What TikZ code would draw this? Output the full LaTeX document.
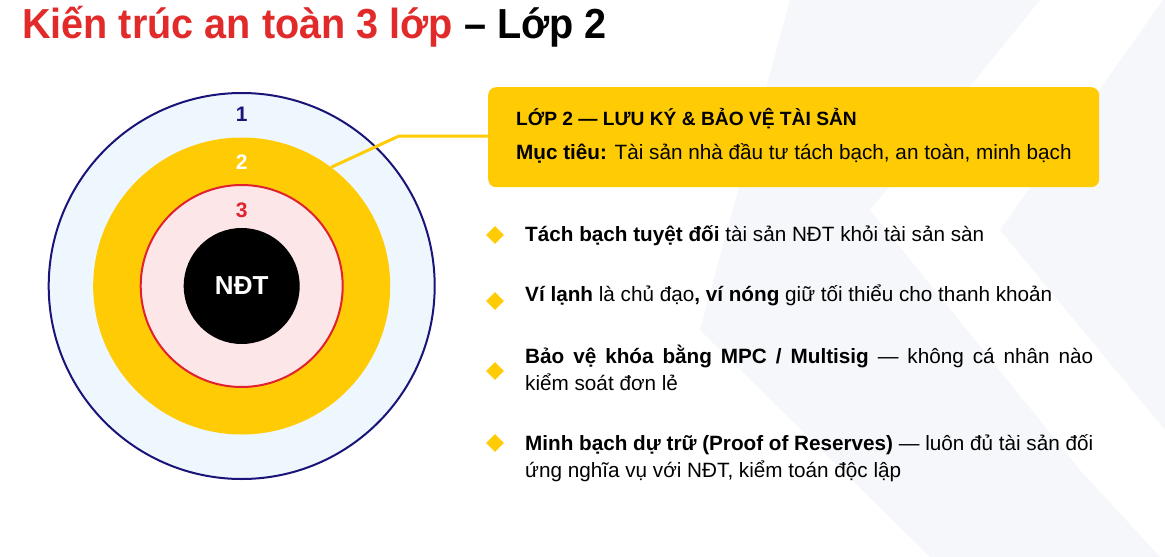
\documentclass[tikz,border=0pt]{standalone}
\usepackage{fontspec}
\setmainfont{Liberation Sans}
\usetikzlibrary{shapes.geometric}
\definecolor{titlered}{HTML}{E12B2B}
\definecolor{navy}{HTML}{1B1478}
\definecolor{gold}{HTML}{FFCB05}
\definecolor{ringblue}{HTML}{EEF6FE}
\definecolor{ringpink}{HTML}{FDE6E8}
\definecolor{ringred}{HTML}{E0222E}
\definecolor{wm}{HTML}{F6F7FA}
\begin{document}
\begin{tikzpicture}[x=1pt,y=-1pt,
  ring/.style={circle, inner sep=0pt},
  numlabel/.style={inner sep=0pt, font=\bfseries\fontsize{21}{24}\selectfont},
  bullet/.style={diamond, fill=gold, inner sep=0pt, minimum size=18pt},
  body/.style={anchor=base west, inner sep=0pt, font=\fontsize{20.7}{27}\selectfont},
]
\useasboundingbox (0,0) rectangle (1165,557);
\fill[white] (0,0) rectangle (1165,557);
% faint watermark
\fill[wm] (790,0) -- (1040,0) -- (870,210) -- (1080,470) -- (1160,557) -- (930,557) -- (700,330) -- cycle;
\fill[wm] (1163,0) -- (1165,0) -- (1165,430) -- (1000,230) -- cycle;

% title
\node[anchor=base west, inner sep=0pt, font=\bfseries\fontsize{42}{50}\selectfont] (title) at (22,38)
  {\scalebox{0.943}[1]{\textcolor{titlered}{Kiến trúc an toàn 3 lớp} – Lớp 2}};

% rings
\node[ring, fill=ringblue, draw=navy, line width=2pt, minimum size=386pt] (ring1) at (241.7,286) {};
\node[ring, fill=gold, minimum size=297pt] (ring2) at (241.7,286) {};
\node[ring, fill=ringpink, draw=ringred, line width=2pt, minimum size=202pt] (ring3) at (241.7,286) {};
\node[ring, fill=black, minimum size=116pt, text=white, font=\bfseries\fontsize{26}{30}\selectfont] (core) at (241.7,286) {NĐT};
\node[numlabel, text=navy] (l1) at (241.7,114) {1};
\node[numlabel, text=white] (l2) at (241.7,162.5) {2};
\node[numlabel, text=ringred] (l3) at (241.7,210.5) {3};

% callout box
\node[fill=gold, rounded corners=8pt, minimum width=611pt, minimum height=100pt, inner sep=0pt, anchor=north west] (box) at (488,87) {};
\coordinate (elbow) at (399,136);
\draw[gold, line width=3pt] (ring2.53) -- (elbow) -- (box.west |- elbow);
\node[anchor=base west, inner sep=0pt, font=\bfseries\fontsize{19.2}{22}\selectfont] (boxtitle) at (516,125)
  {LỚP 2 — LƯU KÝ \& BẢO VỆ TÀI SẢN};
\node[anchor=base west, inner sep=0pt, font=\fontsize{20.7}{24}\selectfont] (goal) at (516,159)
  {\textbf{Mục tiêu:} Tài sản nhà đầu tư tách bạch, an toàn, minh bạch};

% bullets
\node[bullet] (d1) at (495,235) {};
\node[bullet] (d2) at (495,301) {};
\node[bullet] (d3) at (495,371) {};
\node[bullet] (d4) at (495,443) {};
\node[body] (b1) at (525,241) {\textbf{Tách bạch tuyệt đối} tài sản NĐT khỏi tài sản sàn};
\node[body] (b2) at (525,301) {\textbf{Ví lạnh} là chủ đạo\textbf{, ví nóng} giữ tối thiểu cho thanh khoản};
\node[body] (b3a) at (525,363) {\makebox[568pt][s]{\textbf{Bảo vệ khóa bằng MPC / Multisig} — không cá nhân nào}};
\node[body] (b3b) at (525,390) {kiểm soát đơn lẻ};
\node[body] (b4a) at (525,450) {\makebox[568pt][s]{\textbf{Minh bạch dự trữ (Proof of Reserves)} — luôn đủ tài sản đối}};
\node[body] (b4b) at (525,477) {ứng nghĩa vụ với NĐT, kiểm toán độc lập};
\end{tikzpicture}
\end{document}
